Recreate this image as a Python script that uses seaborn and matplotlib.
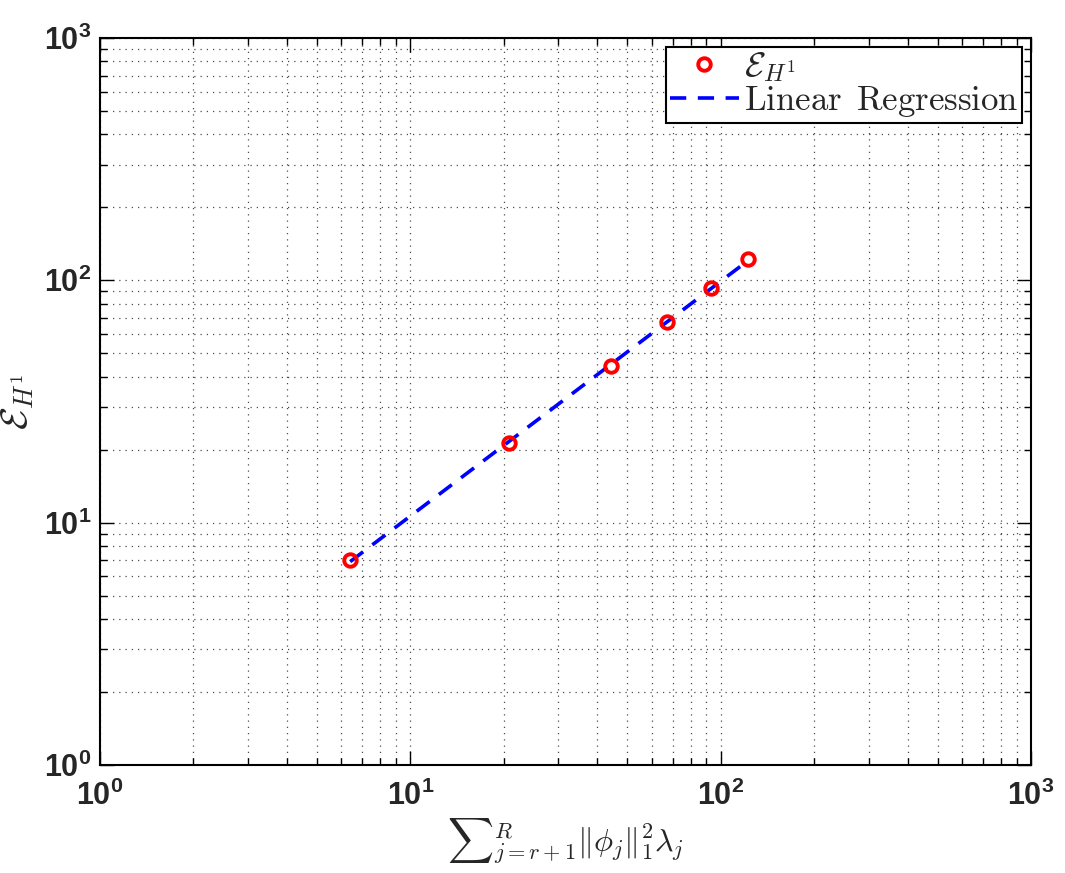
import numpy as np
import matplotlib
matplotlib.use('Agg')
import matplotlib.pyplot as plt
import seaborn as sns

# values
x_err = [6.4, 20.8, 44.3, 67.0, 92.9, 122.8]
y_err = [7.0, 21.3, 44.5, 67.1, 92.7, 122.2]

sns.set_style('ticks')
plt.rcParams['font.family'] = ['Liberation Sans', 'DejaVu Sans']
plt.rcParams['mathtext.fontset'] = 'cm'

# linear regression in log-log space
slope, icpt = np.polyfit(np.log10(x_err), np.log10(y_err), 1)
y_fit = 10 ** (icpt + slope * np.log10(x_err))

fig = plt.figure(figsize=(10.65, 8.73), dpi=100)
ax = fig.add_axes([0.0939, 0.1237, 0.8742, 0.8328])

sns.lineplot(x=x_err, y=y_fit, ax=ax, color='blue', lw=2.6,
             linestyle=(0, (4.5, 3.2)), label='Linear Regression', zorder=3)
sns.lineplot(x=x_err, y=y_err, ax=ax, marker='o', linestyle='', mfc='none',
             mec='red', ms=9, mew=2.8, label=r'$\mathcal{E}_{H^1}$', zorder=4)

ax.set_xscale('log')
ax.set_yscale('log')
ax.set_xlim(1, 1000)
ax.set_ylim(1, 1000)

ax.grid(True, which='both', ls=(0, (1, 4)), color='k', lw=0.9, alpha=0.7)
for sp in ax.spines.values():
    sp.set_linewidth(1.5)
    sp.set_color('black')
ax.tick_params(which='both', direction='in', top=True, right=True, width=1.0, color='black')
ax.tick_params(which='major', length=10, labelsize=22)
ax.tick_params(axis='x', which='major', pad=11)
ax.tick_params(axis='y', which='major', pad=6)
ax.tick_params(which='minor', length=5)
plt.setp(ax.get_xticklabels() + ax.get_yticklabels(), fontweight='bold')

ax.set_xlabel(r'${\sum}_{j=r+1}^{R} \| \phi_j \|_1^2 \lambda_j$', fontsize=23, labelpad=4)
ax.set_ylabel(r'$\mathcal{E}_{H^1}$', fontsize=27, labelpad=6)

h, l = ax.get_legend_handles_labels()
leg = ax.legend([h[1], h[0]], [l[1], r'$\mathrm{Linear\ \,Regression}$'], loc='upper right',
                fontsize=25, frameon=True, fancybox=False, edgecolor='black', framealpha=1,
                borderaxespad=0.25, handlelength=2.0, handletextpad=0.15,
                borderpad=0.1, labelspacing=0.0)
leg.get_frame().set_linewidth(1.5)

fig.savefig('out.png', dpi=100)
